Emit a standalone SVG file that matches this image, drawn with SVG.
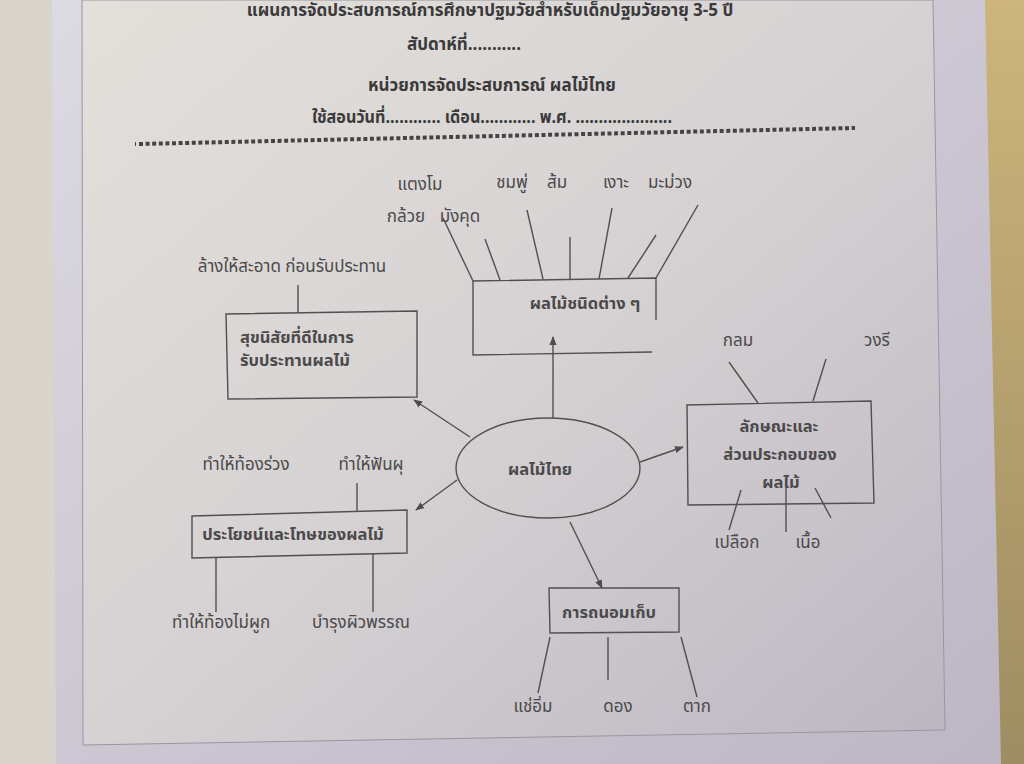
<svg xmlns="http://www.w3.org/2000/svg" width="1024" height="764" viewBox="0 0 1024 764">
<defs>
<linearGradient id="paper" x1="0" y1="0" x2="1" y2="1">
<stop offset="0" stop-color="#e3e0db"/>
<stop offset="0.5" stop-color="#d6d2d3"/>
<stop offset="1" stop-color="#bdb6c2"/>
</linearGradient>
<linearGradient id="sheet" x1="0" y1="0" x2="1" y2="1">
<stop offset="0" stop-color="#dcdae2"/>
<stop offset="1" stop-color="#bdb6c4"/>
</linearGradient>
<linearGradient id="wall" x1="0" y1="0" x2="0" y2="1">
<stop offset="0" stop-color="#cdb57c"/>
<stop offset="1" stop-color="#9e8d62"/>
</linearGradient>
<marker id="arr" viewBox="0 0 10 10" refX="9" refY="5" markerWidth="9" markerHeight="9" markerUnits="userSpaceOnUse" orient="auto">
<path d="M0,1 L10,5 L0,9 z" fill="#4d4d4d"/>
</marker>
<style>
text{font-family:"Noto Sans Thai","Loma","Garuda","Tlwg Typo","Noto Sans","DejaVu Sans",sans-serif;fill:#4a4a4a}
.lbl{font-size:17px}
.box{font-size:16.5px;font-weight:bold}
.ttl{font-size:17px;font-weight:bold;fill:#3a3a3a}
.ln{stroke:#505050;stroke-width:1.4;fill:none}
.bx{stroke:#505050;stroke-width:1.4;fill:none}
</style>
</defs>
<rect x="0" y="0" width="1024" height="764" fill="#dad5cc"/>
<rect x="960" y="0" width="64" height="764" fill="url(#wall)"/>
<polygon points="52,0 985,0 1001,764 56,764" fill="url(#sheet)"/>
<polygon points="82,0 933,0 945,730 83,745" fill="url(#paper)" stroke="#9a96a0" stroke-width="1"/>

<g id="title">
<text class="ttl" x="490" y="16" text-anchor="middle">แผนการจัดประสบการณ์การศึกษาปฐมวัยสำหรับเด็กปฐมวัยอายุ 3-5 ปี</text>
<text class="ttl" x="464" y="50" text-anchor="middle">สัปดาห์ที่...........</text>
<text class="ttl" x="492" y="91" text-anchor="middle">หน่วยการจัดประสบการณ์  ผลไม้ไทย</text>
<text class="ttl" x="312" y="123" textLength="360" lengthAdjust="spacingAndGlyphs">ใช้สอนวันที่............ เดือน............ พ.ศ. .....................</text>
<line x1="135" y1="144" x2="136" y2="144" stroke="#444" stroke-width="4"/>
<line x1="139" y1="144" x2="855" y2="128" stroke="#444" stroke-width="4" stroke-dasharray="4 2.6"/>
</g>

<g id="connectors">
<line class="ln" x1="553" y1="418" x2="553" y2="337" marker-end="url(#arr)"/>
<line class="ln" x1="470" y1="437" x2="414" y2="400" marker-end="url(#arr)"/>
<line class="ln" x1="457" y1="480" x2="416" y2="510" marker-end="url(#arr)"/>
<line class="ln" x1="640" y1="462" x2="683" y2="447" marker-end="url(#arr)"/>
<line class="ln" x1="570" y1="522" x2="602" y2="588" marker-end="url(#arr)"/>
</g>

<g id="center">
<ellipse cx="548" cy="468" rx="92" ry="50" class="bx"/>
<text class="box" x="540" y="475" text-anchor="middle">ผลไม้ไทย</text>
</g>

<g id="fruit-types">
<polyline class="bx" points="656,320 656,278 473,281 473,355 652,352"/>
<text class="box" x="585" y="309" text-anchor="middle">ผลไม้ชนิดต่าง ๆ</text>
<line class="ln" x1="443" y1="218" x2="473" y2="281"/>
<line class="ln" x1="485" y1="239" x2="500" y2="280"/>
<line class="ln" x1="527" y1="210" x2="543" y2="279"/>
<line class="ln" x1="570" y1="237" x2="570" y2="279"/>
<line class="ln" x1="612" y1="208" x2="599" y2="279"/>
<line class="ln" x1="656" y1="235" x2="628" y2="278"/>
<line class="ln" x1="698" y1="205" x2="656" y2="278"/>
<text class="lbl" x="420" y="190" text-anchor="middle">แตงโม</text>
<text class="lbl" x="406" y="222" text-anchor="middle">กล้วย</text>
<text class="lbl" x="460" y="222" text-anchor="middle">มังคุด</text>
<text class="lbl" x="512" y="188" text-anchor="middle">ชมพู่</text>
<text class="lbl" x="557" y="188" text-anchor="middle">ส้ม</text>
<text class="lbl" x="616" y="188" text-anchor="middle">เงาะ</text>
<text class="lbl" x="670" y="188" text-anchor="middle">มะม่วง</text>
</g>

<g id="hygiene">
<polygon class="bx" points="226,314 417,311 417,397 228,399"/>
<text class="box" x="240" y="343">สุขนิสัยที่ดีในการ</text>
<text class="box" x="240" y="366">รับประทานผลไม้</text>
<line class="ln" x1="298" y1="285" x2="298" y2="313"/>
<text class="lbl" x="292" y="272" text-anchor="middle">ล้างให้สะอาด ก่อนรับประทาน</text>
</g>

<g id="characteristics">
<polygon class="bx" points="687,405 871,401 874,503 688,505"/>
<text class="box" x="779" y="432" text-anchor="middle">ลักษณะและ</text>
<text class="box" x="780" y="460" text-anchor="middle">ส่วนประกอบของ</text>
<text class="box" x="781" y="488" text-anchor="middle">ผลไม้</text>
<line class="ln" x1="729" y1="362" x2="758" y2="403"/>
<line class="ln" x1="826" y1="359" x2="813" y2="401"/>
<line class="ln" x1="741" y1="490" x2="729" y2="530"/>
<line class="ln" x1="786" y1="487" x2="786" y2="532"/>
<line class="ln" x1="815" y1="488" x2="831" y2="518"/>
<text class="lbl" x="738" y="346" text-anchor="middle">กลม</text>
<text class="lbl" x="877" y="346" text-anchor="middle">วงรี</text>
<text class="lbl" x="737" y="548" text-anchor="middle">เปลือก</text>
<text class="lbl" x="808" y="548" text-anchor="middle">เนื้อ</text>
</g>

<g id="benefits">
<polygon class="bx" points="192,516 407,510 407,553 192,558"/>
<text class="box" x="293" y="540" text-anchor="middle">ประโยชน์และโทษของผลไม้</text>
<line class="ln" x1="357" y1="483" x2="357" y2="511"/>
<line class="ln" x1="216" y1="558" x2="216" y2="612"/>
<line class="ln" x1="373" y1="554" x2="373" y2="612"/>
<text class="lbl" x="246" y="470" text-anchor="middle">ทำให้ท้องร่วง</text>
<text class="lbl" x="371" y="470" text-anchor="middle">ทำให้ฟันผุ</text>
<text class="lbl" x="221" y="628" text-anchor="middle">ทำให้ท้องไม่ผูก</text>
<text class="lbl" x="361" y="628" text-anchor="middle">บำรุงผิวพรรณ</text>
</g>

<g id="preservation">
<polygon class="bx" points="549,588 679,588 679,632 550,633"/>
<text class="box" x="609" y="618" text-anchor="middle">การถนอมเก็บ</text>
<line class="ln" x1="550" y1="637" x2="538" y2="693"/>
<line class="ln" x1="608" y1="637" x2="608" y2="680"/>
<line class="ln" x1="681" y1="637" x2="697" y2="697"/>
<text class="lbl" x="533" y="712" text-anchor="middle">แช่อิ่ม</text>
<text class="lbl" x="618" y="712" text-anchor="middle">ดอง</text>
<text class="lbl" x="697" y="712" text-anchor="middle">ตาก</text>
</g>
</svg>
